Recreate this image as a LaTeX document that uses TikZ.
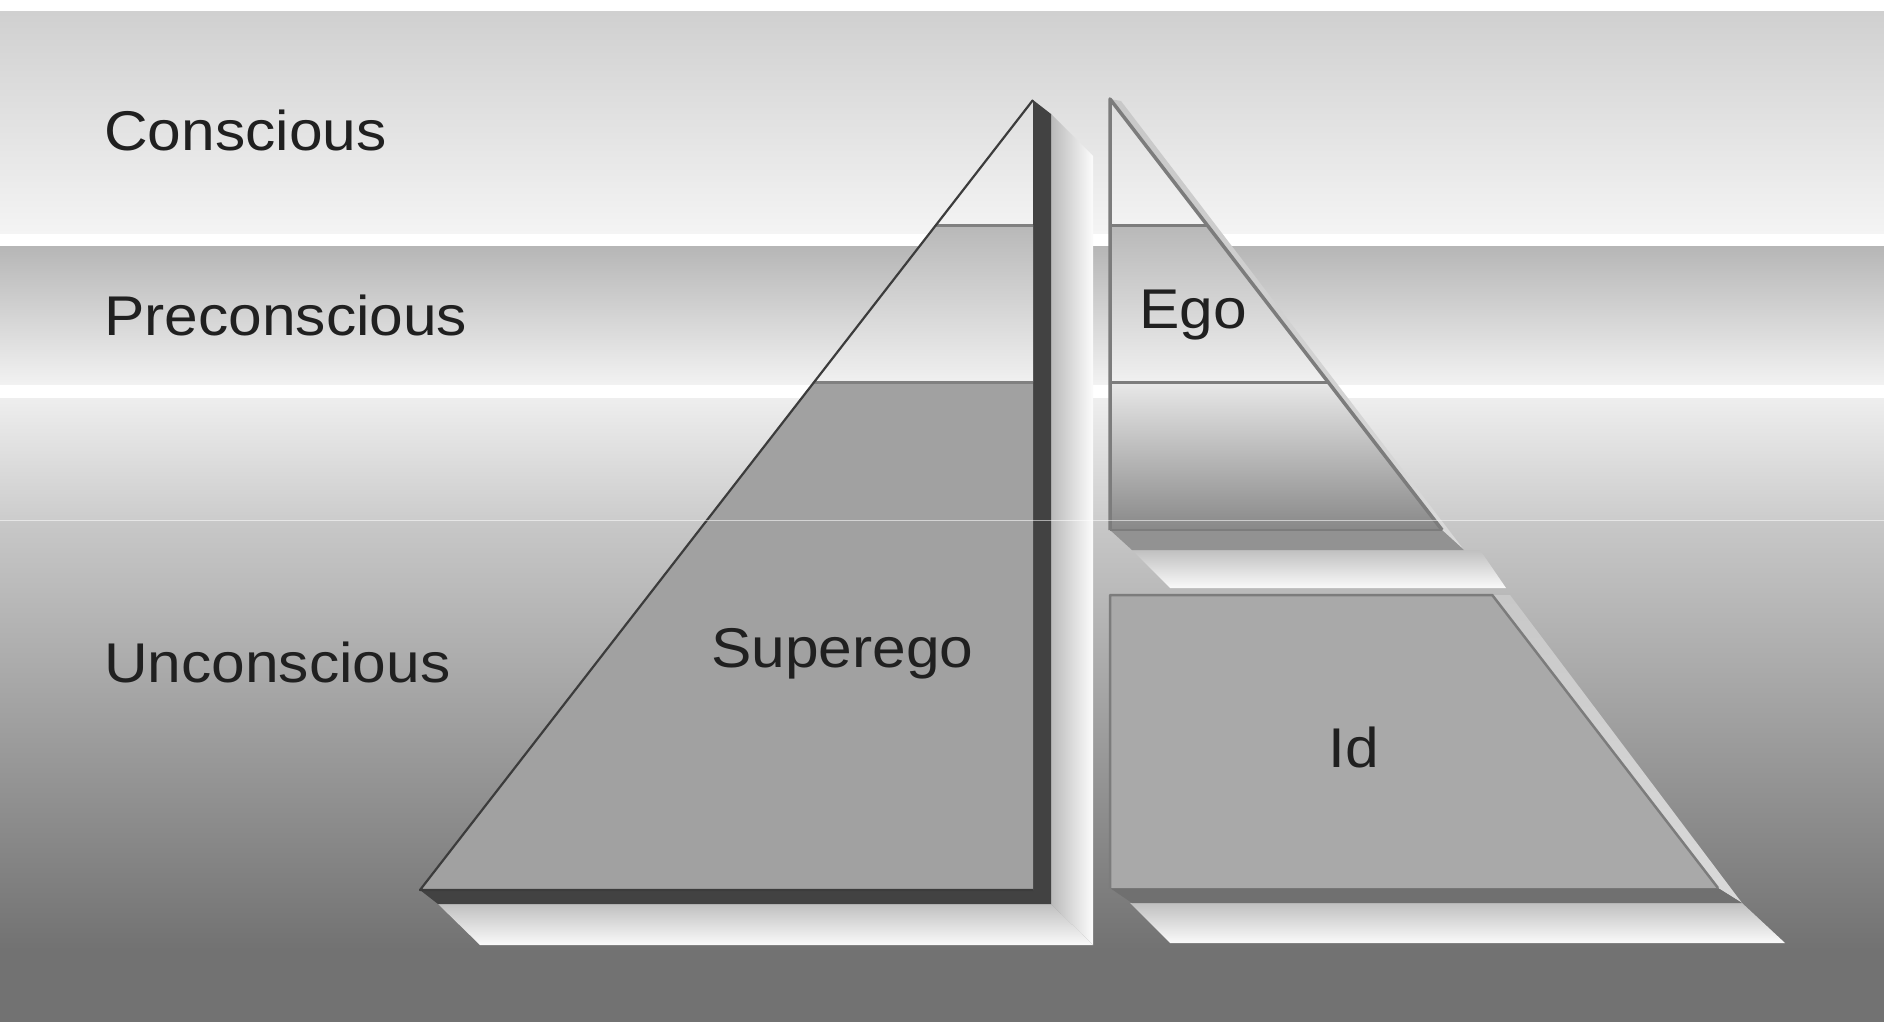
\documentclass[tikz,border=0pt]{standalone}
\usepackage{fontspec}
\setmainfont{Liberation Sans}
\newcommand\mkgray[2]{\definecolor{#1}{RGB}{#2,#2,#2}}
\mkgray{bgA}{208}
\mkgray{bgB}{244}
\mkgray{bgC}{182}
\mkgray{bgD}{242}
\mkgray{bgE}{238}
\mkgray{bgF}{204}
\mkgray{bgG}{200}
\mkgray{bgH}{114}
\mkgray{dkside}{66}
\mkgray{dkline}{60}
\mkgray{midline}{128}
\mkgray{stripL}{186}
\mkgray{stripR}{252}
\mkgray{slabT}{192}
\mkgray{slabB}{250}
\mkgray{faceL}{161}
\mkgray{faceR}{169}
\mkgray{secT}{184}
\mkgray{secB}{240}
\mkgray{egoT}{232}
\mkgray{egoB}{136}
\mkgray{egoside}{146}
\mkgray{idside}{112}
\mkgray{bandT}{200}
\mkgray{bandB}{218}
\mkgray{rline}{124}
\mkgray{txt}{32}
\begin{document}
\begin{tikzpicture}[x=1pt,y=-1pt,
  lbl/.style={anchor=base west, inner sep=0pt, text=txt, font=\fontsize{56}{60}\selectfont}]
\useasboundingbox (0,0) rectangle (1884,1022);
% ---------- background bands ----------
\fill[white] (0,0) rectangle (1884,12);
\shade[top color=bgA, bottom color=bgB] (0,12) rectangle (1884,234);
\fill[white] (0,234) rectangle (1884,246);
\shade[top color=bgC, bottom color=bgD] (0,246) rectangle (1884,385);
\fill[white] (0,385) rectangle (1884,398);
\shade[top color=bgE, bottom color=bgF] (0,398) rectangle (1884,520);
\shade[top color=bgG, bottom color=bgH] (0,520) rectangle (1884,950);
\fill[bgH] (0,950) rectangle (1884,1022);
% ---------- left pyramid (Superego) ----------
\shade[left color=stripL, right color=stripR] (1051,114) -- (1093,156) -- (1093,945) -- (1051,904) -- cycle;
\shade[top color=slabT, bottom color=slabB] (438,904) -- (1051,904) -- (1093,945) -- (480,945) -- cycle;
\fill[dkside] (1033,100) -- (1051,114) -- (1051,904) -- (438,904) -- (420,890) -- (1033,890) -- cycle;
\shade[top color=secT, bottom color=secB] (936,225) -- (1033,225) -- (1033,382) -- (814.2,382) -- cycle;
\fill[faceL] (814.2,382) -- (1033,382) -- (1033,890) -- (420,890) -- cycle;
\draw[midline, line width=3] (936,225) -- (1033,225);
\draw[midline, line width=3] (814.2,382) -- (1033,382);
\draw[dkline, line width=2.2, line join=round] (1033,890) -- (420,890) -- (1033,100);
% ---------- right pyramid: Ego block ----------
\shade[top color=slabT, bottom color=slabB] (1132,550) -- (1480,550) -- (1506,588) -- (1170,588) -- cycle;
\shade[top color=bandT, bottom color=bandB] (1110,99) -- (1442,530) -- (1464,550) -- (1121,101) -- cycle;
\fill[egoside] (1110,530) -- (1442,530) -- (1464,550) -- (1132,550) -- cycle;
\shade[top color=secT, bottom color=secB] (1110,225) -- (1207.1,225) -- (1328.1,382) -- (1110,382) -- cycle;
\shade[top color=egoT, bottom color=egoB] (1110,382) -- (1328.1,382) -- (1442.1,530) -- (1110,530) -- cycle;
\draw[rline, line width=3] (1110,225) -- (1207.1,225);
\draw[rline, line width=3] (1110,382) -- (1328.1,382);
\draw[rline, line width=2] (1110,530) -- (1442.1,530);
\draw[rline, line width=3.5, line join=round] (1110,530) -- (1110,99) -- (1442.1,530);
% ---------- right pyramid: Id block ----------
\shade[top color=slabT, bottom color=slabB] (1130,903) -- (1742,903) -- (1785,943) -- (1170,943) -- cycle;
\shade[top color=bandT, bottom color=bandB] (1492.2,595) -- (1718,888) -- (1742,903) -- (1510,595) -- cycle;
\fill[idside] (1110,888) -- (1718,888) -- (1742,903) -- (1132,903) -- cycle;
\fill[faceR] (1110,595) -- (1492.2,595) -- (1718,888) -- (1110,888) -- cycle;
\draw[rline, line width=2.5, line join=round] (1110,888) -- (1110,595) -- (1492.2,595) -- (1718,888);
% ---------- faint horizontal artefact line ----------
\draw[white, opacity=0.55, line width=1] (0,520) -- (1884,520);
% ---------- labels ----------
\node[lbl] (conscious) at (104,150) {\scalebox{1.08}[1]{Conscious}};
\node[lbl] (preconscious) at (104,335) {\scalebox{1.08}[1]{Preconscious}};
\node[lbl] (unconscious) at (104,682) {\scalebox{1.08}[1]{Unconscious}};
\node[lbl] (superego) at (711,667) {\scalebox{1.08}[1]{Superego}};
\node[lbl] (ego) at (1139,328) {\scalebox{1.08}[1]{Ego}};
\node[lbl] (id) at (1328,767) {\scalebox{1.08}[1]{Id}};
\end{tikzpicture}
\end{document}
